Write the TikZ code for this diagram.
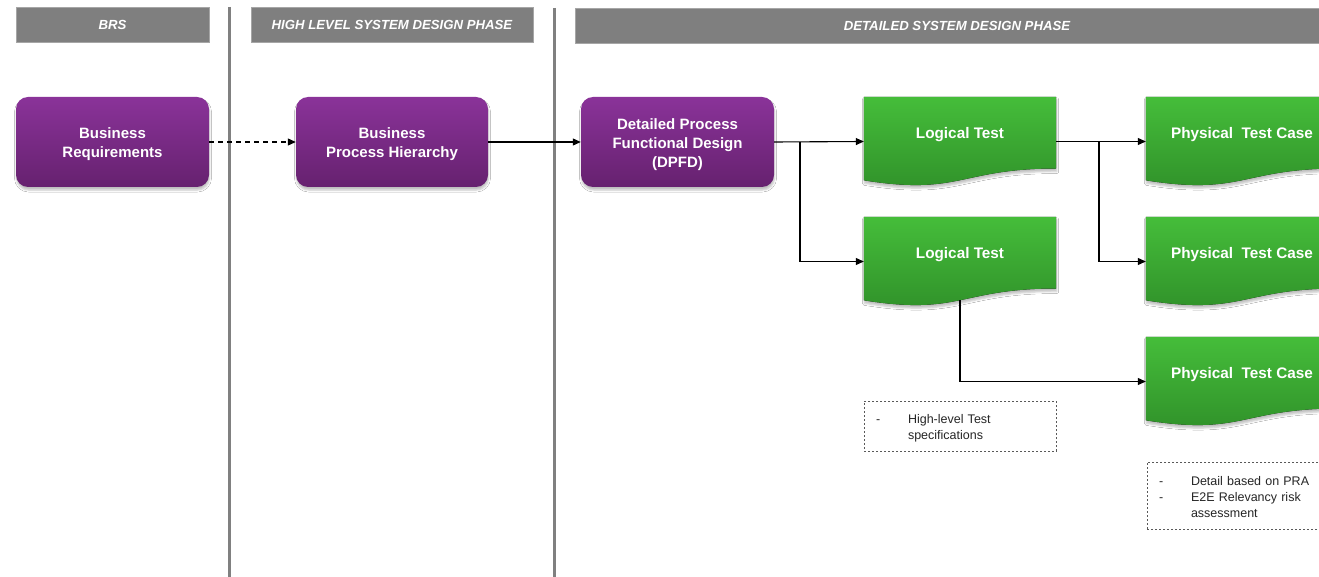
\documentclass[tikz,border=0pt]{standalone}
\usepackage{fontspec}
\setmainfont{Liberation Sans}
\usetikzlibrary{arrows.meta,shadows.blur,calc}

\definecolor{hdrgray}{HTML}{7F7F7F}
\definecolor{hdredge}{HTML}{A6A6A6}
\definecolor{sepgray}{HTML}{808080}
\definecolor{purptop}{HTML}{8A3399}
\definecolor{purpbot}{HTML}{66216F}
\definecolor{grntop}{HTML}{45BD3A}
\definecolor{grnbot}{HTML}{2F8F29}
\definecolor{notetext}{HTML}{262626}
\definecolor{noteedge}{HTML}{595959}

\tikzset{
  softshadow/.style={blur shadow={shadow xshift=0.5pt, shadow yshift=-3pt,
      shadow blur radius=2pt, shadow opacity=25}},
  header/.style={fill=hdrgray, draw=hdredge, line width=0.8pt, minimum height=35pt,
      inner sep=0pt, text=white, font=\fontsize{13.2}{15}\selectfont\bfseries\itshape},
  separator/.style={draw=sepgray, line width=3pt},
  procbox/.style={rounded corners=12pt, top color=purptop, bottom color=purpbot,
      minimum width=193pt, minimum height=90pt, inner sep=0pt, text=white,
      align=center, font=\fontsize{15}{19}\selectfont\bfseries, softshadow},
  docanchor/.style={minimum width=192pt, minimum height=89pt, inner sep=0pt},
  doctext/.style={text=white, inner sep=0pt, font=\fontsize{15.3}{18}\selectfont\bfseries},
  docfill/.style={top color=grntop, bottom color=grnbot, softshadow},
  flow/.style={draw=black, line width=1.1pt, -{Triangle[length=8pt,width=7pt]}},
  note/.style={draw=noteedge, dash pattern=on 2pt off 2pt, line width=0.7pt,
      minimum width=192pt, align=left, text width=168pt, inner xsep=12pt,
      inner ysep=0pt, text=notetext, font=\fontsize{12.5}{16}\selectfont},
}

% green "document" shape with a wavy lower edge, drawn over a named anchor node
\newcommand\docshape[1]{%
  \fill[docfill] (#1.north west) -- (#1.north east)
    -- ($(#1.north east)!0.802!(#1.south east)$)
    .. controls ($(#1.north)!0.802!(#1.south)$) and ($(#1.north)!1.1075!(#1.south)$)
    .. ($(#1.north west)!0.934!(#1.south west)$) -- cycle;}
% strut that lowers a centred block of text a little
\newcommand\lowerstrut[1]{\rule{0pt}{#1}}

\begin{document}
\begin{tikzpicture}[x=1pt,y=-1pt]
  \useasboundingbox (0,0) rectangle (1319,577);
  \fill[white] (0,0) rectangle (1319,577);
  \clip (0,0) rectangle (1319,577);

  % phase headers
  \node[header, minimum width=193pt] (hbrs) at (112.5,24.5) {BRS};
  \node[header, minimum width=282pt] (hhl) at (392,24.5) {HIGH LEVEL SYSTEM DESIGN PHASE};
  \node[header, minimum width=764pt] (hdet) at (957,25.5) {DETAILED SYSTEM DESIGN PHASE};

  % phase separators
  \coordinate (s1top) at (229,7);
  \coordinate (s1bot) at (229,577);
  \coordinate (s2top) at (554,8);
  \coordinate (s2bot) at (554,577);
  \draw[separator] (s1top) -- (s1bot);
  \draw[separator] (s2top) -- (s2bot);

  % process boxes
  \node[procbox] (br) at (112.5,142) {\lowerstrut{16pt}Business\\Requirements};
  \node[procbox, minimum width=192pt] (bph) at (392,142) {\lowerstrut{16pt}Business\\Process Hierarchy};
  \node[procbox] (dpfd) at (677.5,142) {\lowerstrut{16pt}Detailed Process\\Functional Design\\(DPFD)};

  % test documents
  \node[docanchor] (lt1) at (960,141.5) {};
  \node[docanchor] (lt2) at (960,261.5) {};
  \node[docanchor] (pt1) at (1242,141.5) {};
  \node[docanchor] (pt2) at (1242,261.5) {};
  \node[docanchor] (pt3) at (1242,381.5) {};
  \foreach \d in {lt1,lt2,pt1,pt2,pt3} {\docshape{\d}}
  \foreach \d in {lt1,lt2} {\node[doctext] at ($(\d.north)!0.425!(\d.south)$) {Logical Test};}
  \foreach \d in {pt1,pt2,pt3} {\node[doctext] at ($(\d.north)!0.425!(\d.south)$) {Physical\ \ Test Case};}

  % connectors
  \draw[flow, dash pattern=on 5pt off 4pt] (br.east) -- (bph.west);
  \draw[flow] (bph.east) -- (dpfd.west);
  \coordinate (b1) at (800,142);
  \coordinate (b2) at (1099,142);
  \draw[flow] (dpfd.east) -- (lt1.west);
  \draw[flow] (b1) |- (lt2.west);
  \draw[flow] (lt1.east) -- (pt1.west);
  \draw[flow] (b2) |- (pt2.west);
  \coordinate (lt2foot) at ($(lt2.north)!0.933!(lt2.south)$);
  \draw[flow] (lt2foot) |- (pt3.west);

  % notes
  \node[note, minimum height=50pt] (n1) at (960,426)
    {\lowerstrut{13pt}\makebox[32pt][l]{-}High-level Test\\\hspace*{32pt}specifications};
  \node[note, minimum height=67pt, inner xsep=11pt] (n2) at (1243,495.5)
    {\lowerstrut{13pt}\makebox[32pt][l]{-}Detail based on PRA\\\makebox[32pt][l]{-}E2E Relevancy risk\\\hspace*{32pt}assessment};
\end{tikzpicture}
\end{document}
